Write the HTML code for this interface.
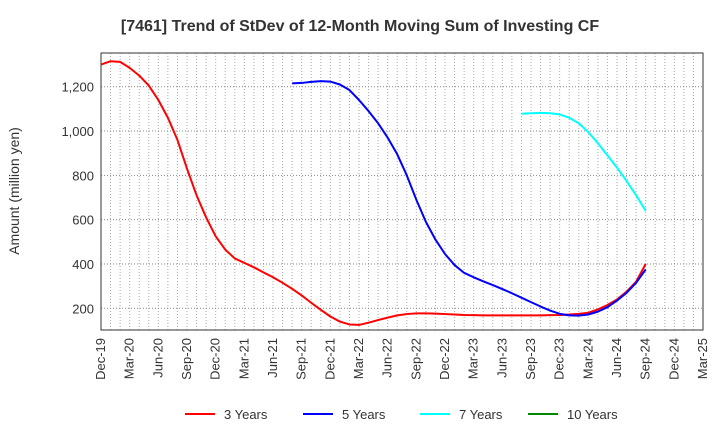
<!DOCTYPE html>
<html><head><meta charset="utf-8"><style>body{margin:0;background:#fff}svg{font-family:"Liberation Sans",sans-serif}</style></head>
<body>
<svg id="c" width="720" height="440"></svg>
<script>
const xTickLabels=["Dec-19","Mar-20","Jun-20","Sep-20","Dec-20","Mar-21","Jun-21","Sep-21","Dec-21","Mar-22","Jun-22","Sep-22","Dec-22","Mar-23","Jun-23","Sep-23","Dec-23","Mar-24","Jun-24","Sep-24","Dec-24","Mar-25"];
const yTicks=[200,400,600,800,1000,1200];
const series3=[1300,1315,1312,1285,1250,1205,1140,1060,960,830,710,610,525,465,425,405,385,362,340,315,288,258,225,193,163,140,127,125,135,147,158,168,174,177,177,176,174,172,170,169,168,168,168,168,168,168,168,169,170,172,175,180,195,215,240,275,320,400];
const series5=[1215,1217,1222,1225,1223,1210,1185,1140,1090,1035,970,895,800,690,590,510,445,395,360,340,322,305,287,268,248,228,208,190,175,168,167,172,185,205,235,270,315,375];
const series7=[1078,1080,1082,1080,1075,1060,1035,995,945,890,835,775,710,640];
const series10=[];
const start5=20, start7=44;
const L=101,R=703,T=53,B=330;
const x=i=>L+i*(R-L)/63;
const y=v=>308.3-(v-200)*0.2216;
const svg=document.getElementById('c');const NS='http://www.w3.org/2000/svg';
function el(t,a,p){const e=document.createElementNS(NS,t);for(const k in a)e.setAttribute(k,a[k]);(p||svg).appendChild(e);return e;}
let t=el('text',{x:360,y:31,'text-anchor':'middle','font-size':16,'font-weight':'bold',fill:'#333'});t.textContent='[7461]  Trend of StDev of 12-Month Moving Sum of Investing CF';

for(let m=0;m<=63;m++){let g=el('line',{x1:x(m),x2:x(m),y1:T,y2:B,stroke:'#aaa','stroke-dasharray':'1,2','stroke-width':1});}
yTicks.forEach(v=>{let g=el('line',{x1:L,x2:R,y1:y(v),y2:y(v),stroke:'#888','stroke-dasharray':'1,2'});
let tx=el('text',{x:L-7,y:y(v)+5,'text-anchor':'end','font-size':13,fill:'#333'});tx.textContent=v.toLocaleString('en-US');});
let f=el('rect',{x:L,y:T,width:R-L,height:B-T,fill:'none',stroke:'#333'});
xTickLabels.forEach((s,i)=>{const xx=x(i*3);let tx=el('text',{x:xx+4,y:B+8,'text-anchor':'end','font-size':13,fill:'#333',transform:`rotate(-90 ${xx+4} ${B+8})`});tx.textContent=s;});
let yt=el('text',{x:19,y:191,'text-anchor':'middle','font-size':14,fill:'#333',transform:'rotate(-90 19 191)'});yt.textContent='Amount (million yen)';
function line(d,s,c,n){if(!d.length)return;let p=el('polyline',{points:d.map((v,i)=>x(s+i)+','+y(v)).join(' '),fill:'none',stroke:c,'stroke-width':2,'stroke-linejoin':'round'});}
line(series3,0,'#f00','line-3-years');line(series5,start5,'#00f','line-5-years');line(series7,start7,'#0ff','line-7-years');line(series10,0,'#080','line-10-years');
[['3 Years','#f00',185],['5 Years','#00f',303],['7 Years','#0ff',420],['10 Years','#080',528]].forEach(([s,c,lx])=>{let g=el('g',{});
el('line',{x1:lx,x2:lx+30,y1:414,y2:414,stroke:c,'stroke-width':2},g);let tx=el('text',{x:lx+39,y:419,'font-size':13,fill:'#333'},g);tx.textContent=s;});
</script>
</body></html>
